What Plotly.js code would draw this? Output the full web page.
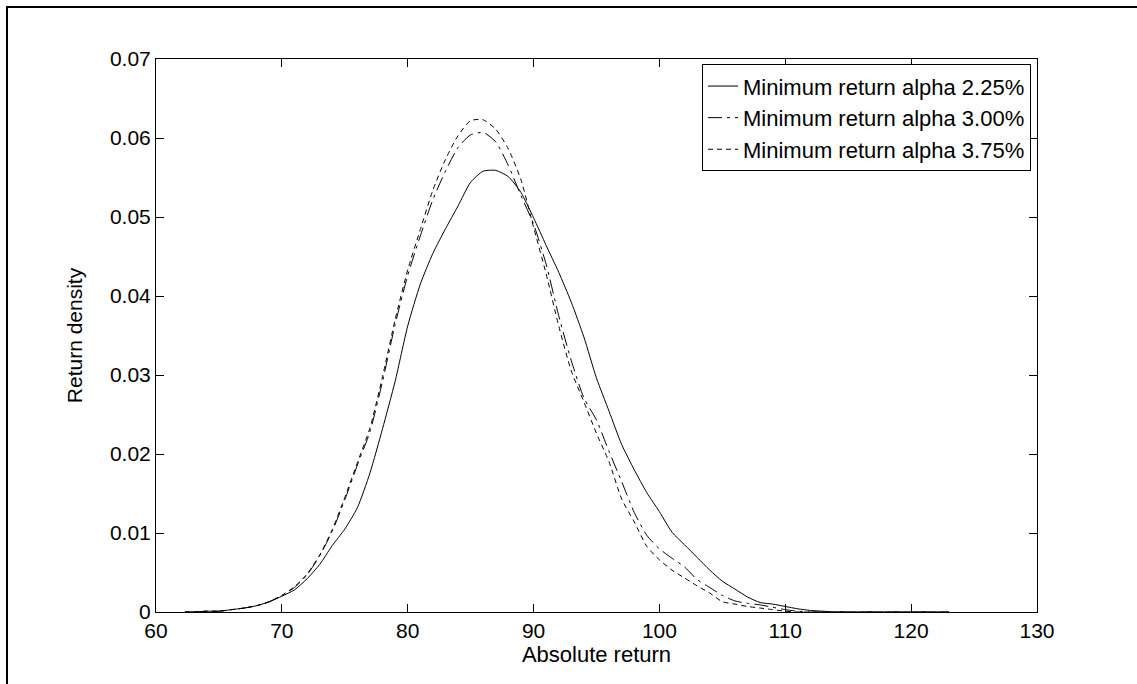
<!DOCTYPE html>
<html>
<head>
<meta charset="utf-8">
<script src="https://cdn.plot.ly/plotly-3.0.1.min.js"></script>
<style>
  html, body { margin: 0; padding: 0; background: #fff; }
  #wrap { position: relative; width: 1137px; height: 684px; overflow: hidden; }
  #chart { position: absolute; left: 0; top: 0; width: 1137px; height: 684px; }
  #frame { position: absolute; left: 6px; top: 6px; width: 1200px; height: 800px;
           border-left: 2px solid #000; border-top: 2px solid #000; pointer-events: none; }
</style>
</head>
<body>
<div id="wrap">
  <div id="chart"></div>
  <div id="frame"></div>
</div>
<script>
// x values (absolute return)
const xReturn = [62.3, 63, 64, 65, 66, 67, 68, 69, 70, 71, 72, 73, 74, 75, 76, 77, 78, 79, 80,
  81, 82, 83, 84, 85, 86, 87, 88, 89, 90, 91, 92, 93, 94, 95, 96, 97, 98, 99, 100,
  101, 102, 103, 104, 105, 106, 107, 108, 109, 110, 111, 112, 113, 114, 115, 116, 117,
  118, 119, 120, 121, 122, 123];

// Minimum return alpha 2.25%
const density225 = [0, 0, 0.0001, 0.0001, 0.0003, 0.0005, 0.0008, 0.0013, 0.0020, 0.0028, 0.0042,
  0.0060, 0.0084, 0.0105, 0.0132, 0.0176, 0.0232, 0.0292, 0.0362, 0.0415, 0.0454, 0.0485,
  0.0514, 0.0544, 0.0558, 0.0559, 0.0551, 0.0531, 0.0499, 0.0464, 0.0430, 0.0392, 0.0348,
  0.0296, 0.0254, 0.0212, 0.0180, 0.0151, 0.0127, 0.0101, 0.0085, 0.0069, 0.0053, 0.0039,
  0.0029, 0.0019, 0.0012, 0.0010, 0.0007, 0.0004, 0.0002, 0.0001, 0, 0, 0, 0, 0, 0, 0, 0, 0, 0];

// Minimum return alpha 3.00%
const density300 = [0, 0, 0.0001, 0.0001, 0.0003, 0.0005, 0.0008, 0.0013, 0.0021, 0.0031, 0.0047,
  0.0071, 0.0102, 0.0142, 0.0186, 0.0228, 0.0292, 0.0364, 0.0426, 0.0476, 0.0522, 0.0558,
  0.0588, 0.0604, 0.0607, 0.0595, 0.0565, 0.0527, 0.0491, 0.0440, 0.0375, 0.0318, 0.0271,
  0.0243, 0.0203, 0.0165, 0.0126, 0.0097, 0.0080, 0.0068, 0.0057, 0.0041, 0.0031, 0.0021,
  0.0014, 0.0011, 0.0009, 0.0006, 0.0003, 0.0001, 0, 0, 0, 0, 0, 0, 0, 0, 0, 0, 0, 0];

// Minimum return alpha 3.75%
const density375 = [0, 0, 0.0001, 0.0001, 0.0003, 0.0005, 0.0008, 0.0013, 0.0021, 0.0032, 0.0048,
  0.0072, 0.0104, 0.0145, 0.0189, 0.0233, 0.0298, 0.0370, 0.0433, 0.0484, 0.0534, 0.0573,
  0.0603, 0.0622, 0.0623, 0.0611, 0.0586, 0.0547, 0.0487, 0.0428, 0.0362, 0.0305, 0.0266,
  0.0226, 0.0190, 0.0143, 0.0114, 0.0083, 0.0066, 0.0053, 0.0043, 0.0033, 0.0024, 0.0013,
  0.0010, 0.0007, 0.0005, 0.0003, 0.0001, 0, 0, 0, 0, 0, 0, 0, 0, 0, 0, 0, 0, 0];

const seriesNames = ['Minimum return alpha 2.25%', 'Minimum return alpha 3.00%', 'Minimum return alpha 3.75%'];
const xTicks = [60, 70, 80, 90, 100, 110, 120, 130];
const yTicks = [0, 0.01, 0.02, 0.03, 0.04, 0.05, 0.06, 0.07];
const yTickLabels = ['0', '0.01', '0.02', '0.03', '0.04', '0.05', '0.06', '0.07'];

const FONT = 'Liberation Sans, Arial, sans-serif';

function mk(y, name, dash) {
  return {
    x: xReturn, y: y, name: name, type: 'scatter', mode: 'lines',
    line: { color: '#000', width: 1, dash: dash, shape: 'spline', smoothing: 0.6 },
    hoverinfo: 'skip'
  };
}

const traces = [
  mk(density225, seriesNames[0], 'solid'),
  mk(density300, seriesNames[1], '14px,5px,3px,5px'),
  mk(density375, seriesNames[2], '5px,4px')
];

const axisCommon = {
  showgrid: false, zeroline: false, showline: true, linecolor: '#000', linewidth: 1,
  mirror: 'ticks', ticks: 'inside', ticklen: 8, tickwidth: 1, tickcolor: '#000',
  tickfont: { family: FONT, size: 21, color: '#000' }
};

const layout = {
  width: 1137, height: 684,
  paper_bgcolor: '#fff', plot_bgcolor: '#fff',
  margin: { l: 156, r: 100, t: 59, b: 72 },
  showlegend: true,
  font: { family: FONT, color: '#000' },
  xaxis: Object.assign({}, axisCommon, {
    range: [60, 130], tickmode: 'array', tickvals: xTicks,
    title: { text: 'Absolute return', font: { family: FONT, size: 22, color: '#000' }, standoff: 3 }
  }),
  yaxis: Object.assign({}, axisCommon, {
    range: [0, 0.07], tickmode: 'array', tickvals: yTicks, ticktext: yTickLabels,
    title: { text: 'Return density', font: { family: FONT, size: 21, color: '#000' }, standoff: 21 }
  }),
  legend: {
    x: 0.9932, xanchor: 'right', y: 0.9905, yanchor: 'top',
    bgcolor: '#fff', bordercolor: '#000', borderwidth: 1,
    font: { family: FONT, size: 22, color: '#000' },
    tracegroupgap: 0, itemwidth: 30
  }
};

Plotly.newPlot('chart', traces, layout, { staticPlot: true, displayModeBar: false });
</script>
</body>
</html>
